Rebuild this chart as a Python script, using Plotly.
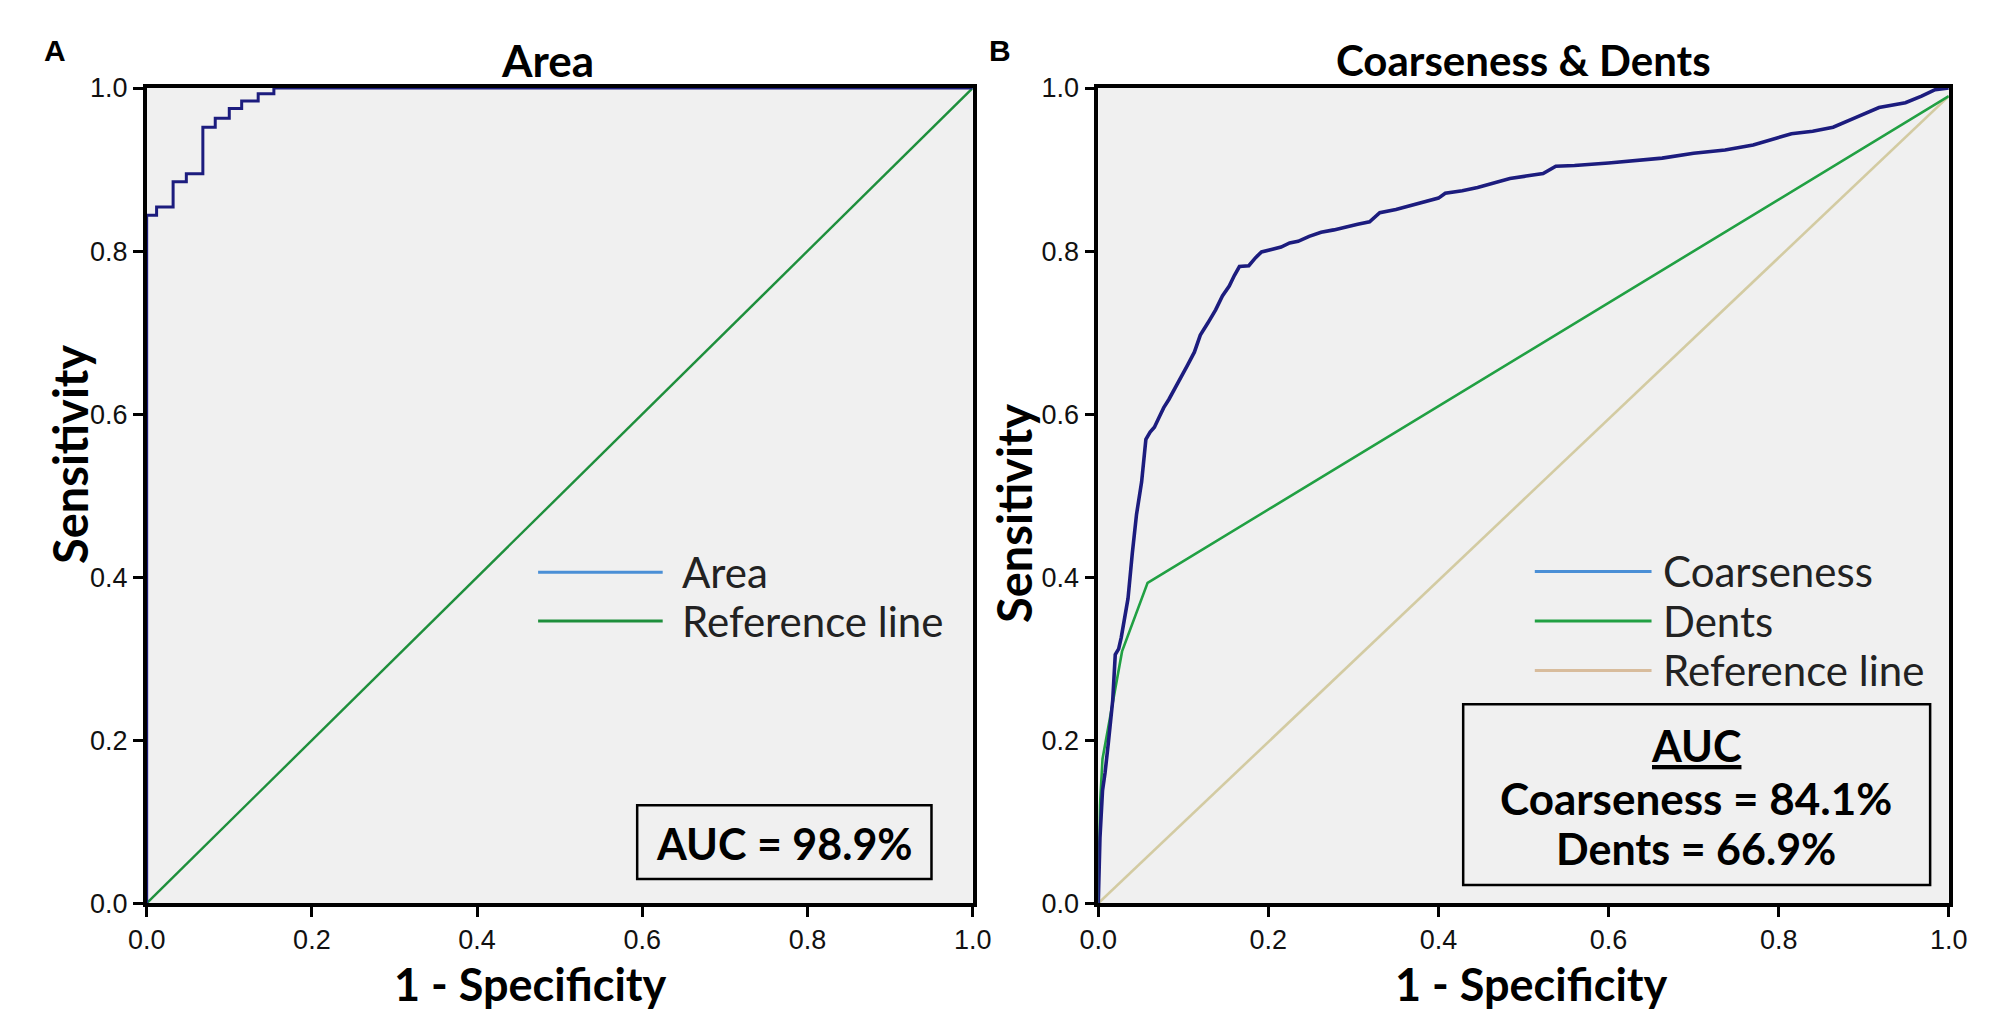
import plotly.graph_objects as go
from plotly.subplots import make_subplots

# --- Data ---
# Panel A: Area ROC (step curve)
area_fpr = [0.0, 0.0, 0.012, 0.032, 0.048, 0.068, 0.083, 0.100, 0.115, 0.135, 0.154, 0.20, 1.0]
area_tpr = [0.0, 0.844, 0.854, 0.885, 0.895, 0.952, 0.963, 0.975, 0.984, 0.993, 1.0, 1.0, 1.0]
ref_a_x = [0.0, 1.0]
ref_a_y = [0.0, 1.0]

# Panel B: Coarseness ROC
coarse_fpr = [0.0, 0.002, 0.005, 0.008, 0.012, 0.017, 0.020, 0.024, 0.027, 0.031, 0.035, 0.040,
              0.045, 0.051, 0.054, 0.056, 0.061, 0.066, 0.072, 0.077, 0.083, 0.089, 0.097,
              0.105, 0.113, 0.120, 0.129, 0.138, 0.146, 0.154, 0.160, 0.166, 0.177, 0.185,
              0.192, 0.203, 0.215, 0.225, 0.235, 0.248, 0.262, 0.277, 0.292, 0.305, 0.319,
              0.331, 0.350, 0.369, 0.385, 0.400, 0.408, 0.428, 0.446, 0.465, 0.484, 0.503,
              0.523, 0.538, 0.560, 0.600, 0.640, 0.663, 0.700, 0.737, 0.770, 0.815, 0.840,
              0.864, 0.891, 0.918, 0.949, 0.968, 0.984, 0.995, 1.0]
coarse_tpr = [0.0, 0.080, 0.138, 0.160, 0.198, 0.249, 0.305, 0.312, 0.326, 0.350, 0.374, 0.429,
              0.477, 0.517, 0.549, 0.569, 0.578, 0.584, 0.597, 0.608, 0.618, 0.629, 0.645,
              0.660, 0.676, 0.697, 0.712, 0.728, 0.745, 0.757, 0.770, 0.781, 0.782, 0.792,
              0.799, 0.802, 0.805, 0.810, 0.812, 0.818, 0.823, 0.826, 0.830, 0.833, 0.836,
              0.847, 0.851, 0.856, 0.861, 0.865, 0.871, 0.874, 0.878, 0.884, 0.889, 0.892,
              0.895, 0.904, 0.905, 0.908, 0.912, 0.914, 0.920, 0.924, 0.930, 0.944, 0.947,
              0.952, 0.964, 0.976, 0.982, 0.990, 0.998, 1.0, 1.0]

# Panel B: Dents ROC
dents_fpr = [0.0, 0.002, 0.005, 0.028, 0.058, 1.0]
dents_tpr = [0.0, 0.120, 0.177, 0.309, 0.393, 0.99]
ref_b_x = [0.0, 1.0]
ref_b_y = [0.0, 0.99]

ticks = [0.0, 0.2, 0.4, 0.6, 0.8, 1.0]
tick_text = ["0.0", "0.2", "0.4", "0.6", "0.8", "1.0"]

auc_area = "98.9%"
auc_coarse = "84.1%"
auc_dents = "66.9%"

# --- Colours ---
NAVY = "#1c1c7e"
GREEN = "#1e8f3c"
DENTS_GREEN = "#21a043"
TAN_LINE = "#d3cba2"
LEG_BLUE = "#4a8fd6"
LEG_TAN = "#d8bc9c"
BG = "#f0f0f0"

W, H = 2000, 1020


def px(x):
    return x / W


def py(y):
    return 1 - y / H


def note(text, x, y, size, family="Lato", xanchor="center", color="black", angle=0):
    return dict(text=text, x=px(x), y=py(y), xref="paper", yref="paper",
                xanchor=xanchor, yanchor="middle", showarrow=False, textangle=angle,
                font=dict(family=family, size=size, color=color))


fig = make_subplots(rows=1, cols=2)

fig.add_trace(go.Scatter(x=ref_a_x, y=ref_a_y, mode="lines",
                         line=dict(color=GREEN, width=2.4)), row=1, col=1)
fig.add_trace(go.Scatter(x=area_fpr, y=area_tpr, mode="lines", line_shape="hv",
                         line=dict(color=NAVY, width=3)), row=1, col=1)

fig.add_trace(go.Scatter(x=ref_b_x, y=ref_b_y, mode="lines",
                         line=dict(color=TAN_LINE, width=2.6)), row=1, col=2)
fig.add_trace(go.Scatter(x=dents_fpr, y=dents_tpr, mode="lines",
                         line=dict(color=DENTS_GREEN, width=2.6)), row=1, col=2)
fig.add_trace(go.Scatter(x=coarse_fpr, y=coarse_tpr, mode="lines",
                         line=dict(color=NAVY, width=3.6)), row=1, col=2)

axis_common = dict(
    range=[0, 1], tickvals=ticks, ticktext=tick_text,
    showgrid=False, zeroline=False,
    showline=True, linecolor="black", linewidth=3.5, mirror=True,
    ticks="outside", ticklen=10, tickwidth=3, tickcolor="black",
    tickfont=dict(family="Liberation Sans", size=27, color="#111"),
)

ydom = [py(907), py(67)]
fig.update_xaxes(axis_common)
fig.update_yaxes(axis_common)
fig.update_layout(
    xaxis=dict(domain=[px(122), px(964)]),
    xaxis2=dict(domain=[px(1092), px(1959)]),
    yaxis=dict(domain=ydom),
    yaxis2=dict(domain=ydom),
)

annotations = []
shapes = []

# panel letters, titles and axis titles
annotations.append(note("<b>A</b>", 29, 28, 30, family="Liberation Sans"))
annotations.append(note("<b>B</b>", 992, 28, 30, family="Liberation Sans"))
annotations.append(note("<b>Area</b>", 531, 38, 44))
annotations.append(note("<b>Coarseness & Dents</b>", 1525, 38, 42))
annotations.append(note("<b>1 - Specificity</b>", 513, 990, 45))
annotations.append(note("<b>1 - Specificity</b>", 1534, 990, 45))
annotations.append(note("<b>Sensitivity</b>", 44, 445, 47, angle=-90))
annotations.append(note("<b>Sensitivity</b>", 1006, 505, 47, angle=-90))

# legend A
leg_a = [("Area", LEG_BLUE, 566), ("Reference line", GREEN, 616)]
for label, col, yy in leg_a:
    shapes.append(dict(type="line", xref="paper", yref="paper", x0=px(521), x1=px(648),
                       y0=py(yy), y1=py(yy), line=dict(color=col, width=3)))
    annotations.append(note(label, 666, yy, 42, xanchor="left", color="#222"))

# legend B
leg_b = [("Coarseness", LEG_BLUE, 565), ("Dents", DENTS_GREEN, 616), ("Reference line", LEG_TAN, 667)]
for label, col, yy in leg_b:
    shapes.append(dict(type="line", xref="paper", yref="paper", x0=px(1537), x1=px(1656),
                       y0=py(yy), y1=py(yy), line=dict(color=col, width=3)))
    annotations.append(note(label, 1666, yy, 42, xanchor="left", color="#222"))

# AUC boxes
shapes.append(dict(type="rect", xref="paper", yref="paper", x0=px(622), x1=px(922),
                   y0=py(882), y1=py(806), line=dict(color="black", width=2.5), fillcolor=BG))
annotations.append(note("<b>AUC = " + auc_area + "</b>", 772, 845, 43))

shapes.append(dict(type="rect", xref="paper", yref="paper", x0=px(1464), x1=px(1940),
                   y0=py(888), y1=py(702), line=dict(color="black", width=2.5), fillcolor=BG))
annotations.append(note("<b><u>AUC</u></b>", 1701, 744, 43))
annotations.append(note("<b>Coarseness = " + auc_coarse + "</b>", 1701, 798, 44))
annotations.append(note("<b>Dents = " + auc_dents + "</b>", 1701, 850, 43))

fig.update_layout(
    width=W, height=H,
    margin=dict(l=0, r=0, t=0, b=0),
    paper_bgcolor="white", plot_bgcolor=BG,
    showlegend=False,
    annotations=annotations, shapes=shapes,
)

fig.write_html("out.html")
